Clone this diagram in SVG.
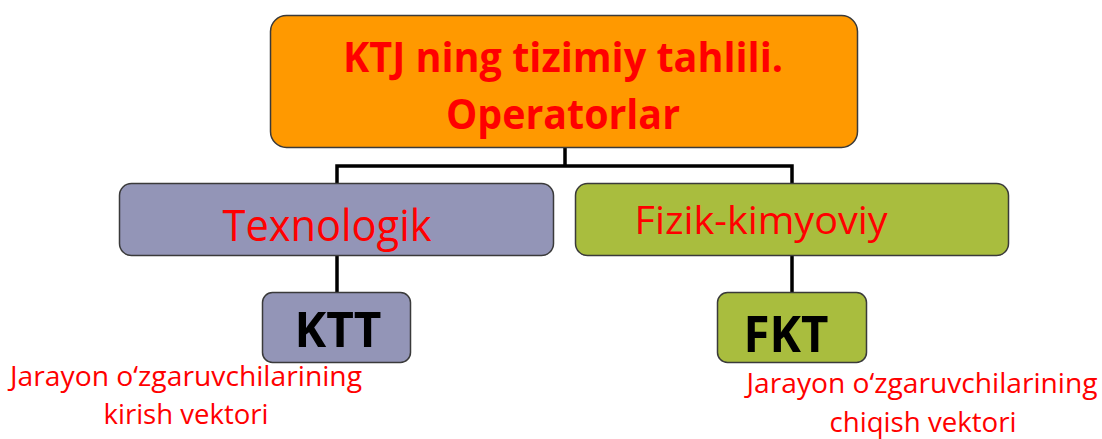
<svg xmlns="http://www.w3.org/2000/svg" width="1102" height="439" viewBox="0 0 1102 439">
<style>
.box{stroke:#3a3a3a;stroke-width:1.5}
.conn{fill:none;stroke:#000;stroke-width:3.5}
.red{fill:#ff0000;font-family:"Open Sans","Liberation Sans",sans-serif}
.b{font-weight:bold}
.blk{fill:#000;font-family:"Open Sans","Liberation Sans",sans-serif;font-weight:bold}
</style>
<rect width="1102" height="439" fill="#fff"/>
<g id="connectors">
<path class="conn" d="M565 147 V166 M337 184 V166 H792 V184"/>
<path class="conn" d="M337 255 V292"/>
<path class="conn" d="M792 255 V292"/>
</g>
<g id="top">
<rect class="box" x="270.5" y="15.5" width="587" height="132" rx="16" fill="#ff9900"/>
<text class="red b" x="563" y="72" font-size="42" text-anchor="middle" textLength="440" lengthAdjust="spacingAndGlyphs">KTJ ning tizimiy tahlili.</text>
<text class="red b" x="563" y="129" font-size="42" text-anchor="middle" textLength="234" lengthAdjust="spacingAndGlyphs">Operatorlar</text>
</g>
<g id="texnologik">
<rect class="box" x="119.5" y="183.5" width="434" height="72" rx="12" fill="#9395b7"/>
<text class="red" x="327" y="241" font-size="43" text-anchor="middle" textLength="209" lengthAdjust="spacingAndGlyphs">Texnologik</text>
</g>
<g id="fizik">
<rect class="box" x="575.5" y="183.5" width="433" height="72" rx="12" fill="#a9bd3e"/>
<text class="red" x="761" y="234" font-size="38" text-anchor="middle" textLength="253" lengthAdjust="spacingAndGlyphs">Fizik-kimyoviy</text>
</g>
<g id="ktt">
<rect class="box" x="262.5" y="292.5" width="148" height="70" rx="10" fill="#9395b7"/>
<text class="blk" x="338" y="347" font-size="49" text-anchor="middle" textLength="87" lengthAdjust="spacingAndGlyphs">KTT</text>
</g>
<g id="fkt">
<rect class="box" x="717.5" y="292.5" width="149" height="70" rx="10" fill="#a9bd3e"/>
<text class="blk" x="786" y="352" font-size="51" text-anchor="middle" textLength="85" lengthAdjust="spacingAndGlyphs">FKT</text>
</g>
<g id="input-label">
<text class="red" x="186" y="386" font-size="27" text-anchor="middle" textLength="352" lengthAdjust="spacingAndGlyphs">Jarayon o‘zgaruvchilarining</text>
<text class="red" x="186" y="424" font-size="27" text-anchor="middle" textLength="165" lengthAdjust="spacingAndGlyphs">kirish vektori</text>
</g>
<g id="output-label">
<text class="red" x="922" y="393" font-size="27" text-anchor="middle" textLength="351" lengthAdjust="spacingAndGlyphs">Jarayon o‘zgaruvchilarining</text>
<text class="red" x="923" y="432" font-size="27" text-anchor="middle" textLength="187" lengthAdjust="spacingAndGlyphs">chiqish vektori</text>
</g>
</svg>
